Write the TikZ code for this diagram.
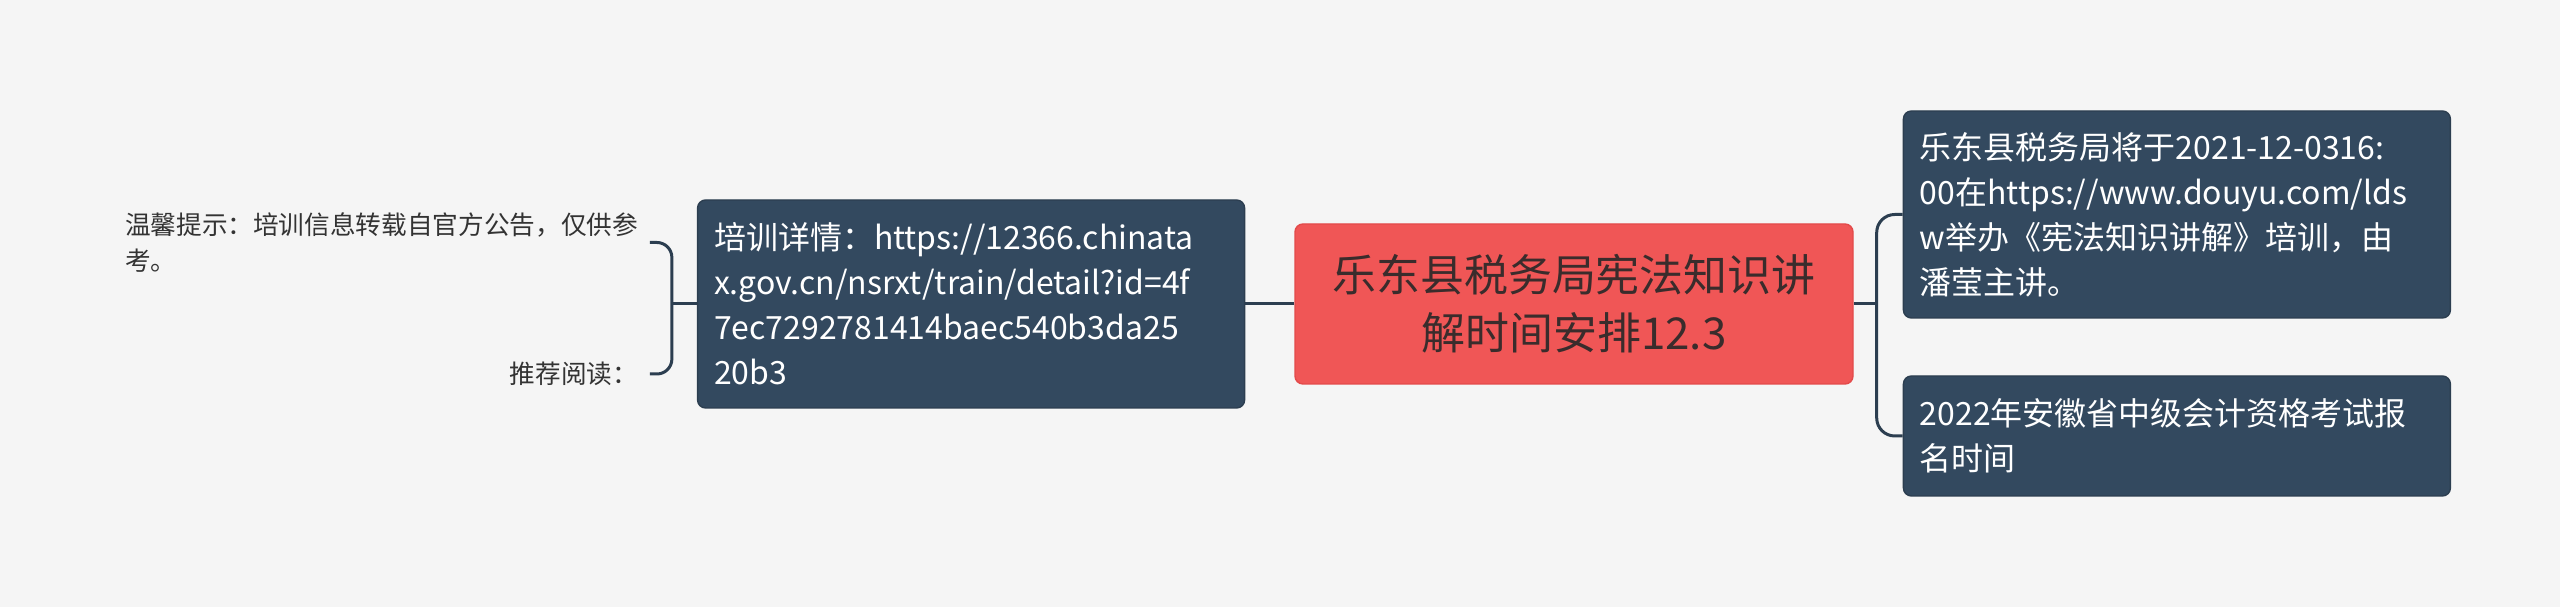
\documentclass[tikz,border=0pt]{standalone}
\usepackage{fontspec}
\setmainfont{Noto Sans CJK SC}
\usetikzlibrary{positioning}

\definecolor{paper}{HTML}{F5F5F5}
\definecolor{slate}{HTML}{33495F}
\definecolor{slateline}{HTML}{2C3E50}
\definecolor{coral}{HTML}{F05656}
\definecolor{coralline}{HTML}{E34A4A}
\definecolor{inkdark}{HTML}{3A2C2C}
\definecolor{inkgrey}{HTML}{333333}

\begin{document}
\begin{tikzpicture}[
    x=1mm, y=1mm,
    node distance=4.9mm,
    root/.style={draw=coralline, fill=coral, rounded corners=0.8mm, text=inkdark, align=center,
      minimum width=55.8mm, minimum height=16mm, inner sep=0pt,
      font=\fontsize{12.5pt}{16.5pt}\selectfont},
    topic/.style={draw=slateline, fill=slate, rounded corners=0.8mm, text=white, align=left,
      text width=51.4mm, inner xsep=1.65mm, inner ysep=0pt,
      font=\fontsize{9.1pt}{12.8pt}\selectfont},
    tip/.style={inner sep=0pt, align=left, text=inkgrey, font=\fontsize{7.3pt}{10.5pt}\selectfont},
    link/.style={draw=slateline, line width=0.3mm}
  ]
    \fill[paper] (0,0) rectangle (256,60.7);
    \useasboundingbox (0,0) rectangle (256,60.7);

    \node[root] (title) at (157.4,30.3) {乐东县税务局宪法知识讲\\解时间安排12.3};

    \node[topic, minimum height=20.8mm] (detail) [left=of title]
      {培训详情：https://12366.chinata\\x.gov.cn/nsrxt/train/detail?id=4f\\7ec7292781414baec540b3da25\\20b3};
    \node[tip] (notice) [left=5.8mm of detail, yshift=6.15mm]
      {温馨提示：培训信息转载自官方公告，仅供参\\考。};
    \node[tip] (reading) [left=5.8mm of detail, yshift=-7mm] {推荐阅读：};

    \node[topic, minimum height=20.7mm] (lecture) [right=of title, yshift=8.95mm]
      {乐东县税务局将于2021-12-0316:\\00在https://www.douyu.com/lds\\w举办《宪法知识讲解》培训，由\\潘莹主讲。};
    \node[topic, minimum height=12mm] (exam) [right=of title, yshift=-13.2mm]
      {2022年安徽省中级会计资格考试报\\名时间};

    % left side
    \draw[link] (title.west) -- (detail.east);
    \draw[link] (detail.west) -- ++(-2.5,0) coordinate (lfork);
    \draw[link, rounded corners=1.5mm] ([xshift=1.1mm]notice.east) -| (lfork) |- ([xshift=1.1mm]reading.east);

    % right side
    \draw[link] (title.east) -- ++(2.3,0) coordinate (rfork);
    \draw[link, rounded corners=1.8mm] (lecture.west) -| (rfork) |- (exam.west);
  \end{tikzpicture}
\end{document}
